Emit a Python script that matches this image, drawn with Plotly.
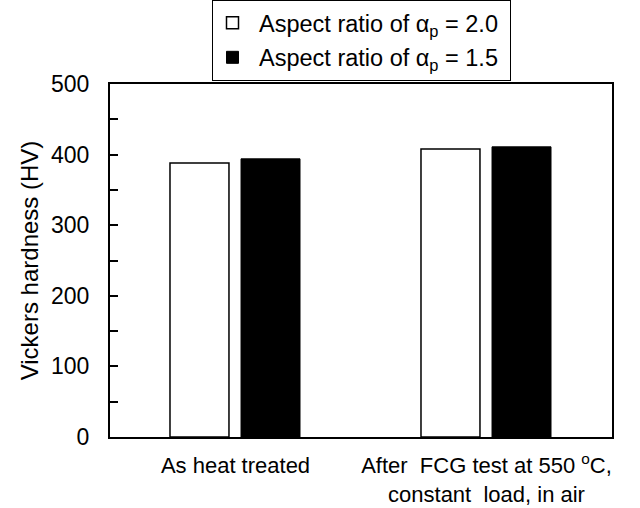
import plotly.graph_objects as go

categories = ["As heat treated", "After  FCG test at 550 <sup>o</sup>C,<br>constant  load, in air"]
series_names = ["\u00a0Aspect ratio of α<sub>p</sub> = 2.0\u00a0", "\u00a0Aspect ratio of α<sub>p</sub> = 1.5\u00a0"]
hv_ratio_20 = [388, 408]
hv_ratio_15 = [394, 411]
y_ticks = [0, 100, 200, 300, 400, 500]

FONT = "Liberation Sans, Arial, sans-serif"

fig = go.Figure()
fig.add_trace(go.Bar(
    x=categories, y=hv_ratio_20, name=series_names[0],
    marker=dict(color="white", line=dict(color="black", width=1.5)),
    width=0.235, offset=-0.261, legendgroup="a",
))
fig.add_trace(go.Bar(
    x=categories, y=hv_ratio_15, name=series_names[1],
    marker=dict(color="black", line=dict(color="black", width=1)),
    width=0.235, offset=0.022, legendgroup="b",
))

fig.update_layout(
    width=640, height=508,
    margin=dict(l=110, r=28, t=84, b=71, autoexpand=False),
    paper_bgcolor="white", plot_bgcolor="white",
    font=dict(family=FONT, size=23, color="black"),
    barmode="group",
    showlegend=True,
    legend=dict(
        x=0.5, xanchor="center", xref="paper",
        y=1, yanchor="top", yref="container",
        bordercolor="black", borderwidth=1, bgcolor="white",
        font=dict(size=23.5), tracegroupgap=1, traceorder="grouped",
        itemwidth=30,
    ),
    xaxis=dict(
        showline=True, linecolor="black", linewidth=2, mirror=True,
        ticks="", showgrid=False, zeroline=False, automargin=False,
        tickfont=dict(size=22), ticklabelstandoff=8,
        range=[-0.5, 1.5],
    ),
    yaxis=dict(
        range=[0, 500], tickvals=y_ticks, automargin=False,
        showline=True, linecolor="black", linewidth=2, mirror=True,
        ticks="inside", ticklen=8, tickwidth=1.5, tickcolor="black",
        minor=dict(ticks="inside", dtick=50, ticklen=8, tickwidth=1.5, tickcolor="black"),
        showgrid=False, zeroline=False,
        tickfont=dict(size=23), ticklabelstandoff=14,
        title=dict(text="Vickers hardness (HV)", font=dict(size=24), standoff=6),
    ),
)

fig.write_html("out.html")
